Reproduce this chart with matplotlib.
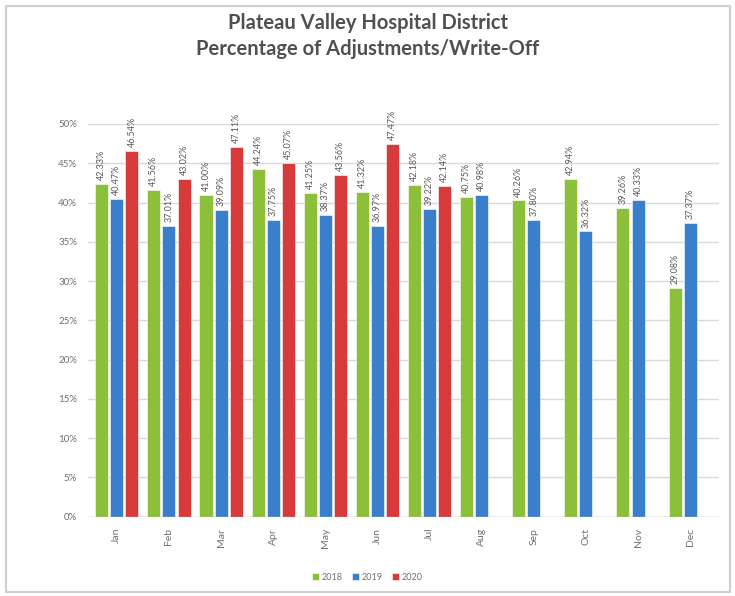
import numpy as np
import matplotlib.pyplot as plt
from matplotlib.patches import Rectangle

months = ["Jan", "Feb", "Mar", "Apr", "May", "Jun", "Jul", "Aug", "Sep", "Oct", "Nov", "Dec"]
y2018 = [42.33, 41.56, 41.00, 44.24, 41.25, 41.32, 42.18, 40.75, 40.26, 42.94, 39.26, 29.08]
y2019 = [40.47, 37.01, 39.09, 37.75, 38.37, 36.97, 39.22, 40.98, 37.80, 36.32, 40.33, 37.37]
y2020 = [46.54, 43.02, 47.11, 45.07, 43.56, 47.47, 42.14]

series = [("2018", y2018, "#8cbf3a"), ("2019", y2019, "#3a7fcc"), ("2020", y2020, "#d63a3a")]

plt.rcParams['font.family'] = ['Lato', 'DejaVu Sans']

fig = plt.figure(figsize=(7.35, 5.96), dpi=100)
ax = fig.add_axes([0.12, 0.133, 0.858, 0.659])

# outer chart frame
fig.patches.append(Rectangle((0.008, 0.006), 0.985, 0.984, transform=fig.transFigure,
                             fill=False, edgecolor="#cfcfcf", linewidth=1.5))

x = np.arange(len(months))
w = 0.25
step = 0.29
for i, (name, vals, col) in enumerate(series):
    xs = x[:len(vals)] + (i - 1) * step
    bars = ax.bar(xs, vals, width=w, color=col, edgecolor="white", linewidth=0.4,
                  label=name, zorder=3)
    for xi, v in zip(xs, vals):
        ax.text(xi, v + 0.5, f"{v:.2f}%", rotation=90, ha="center", va="bottom",
                fontsize=6.5, color="#595959", clip_on=False)

ax.set_ylim(0, 50)
ax.set_xlim(-0.55, len(months) - 0.45)
ax.set_yticks(np.arange(0, 51, 5))
ax.set_yticklabels([f"{t}%" for t in range(0, 51, 5)], fontsize=7, color="#707070")
ax.set_xticks(x)
ax.set_xticklabels(months, rotation=90, fontsize=7.5, color="#707070")
ax.tick_params(length=0, pad=8)
ax.yaxis.grid(True, color="#d9d9d9", linewidth=1, zorder=0)
for s in ax.spines.values():
    s.set_visible(False)
ax.axhline(0, color="#bfbfbf", linewidth=1, zorder=4)

fig.suptitle("Plateau Valley Hospital District\nPercentage of Adjustments/Write-Off",
             y=0.978, fontsize=14.5, fontweight="bold", color="#505050", linespacing=1.35)

fig.legend(loc="lower center", bbox_to_anchor=(0.5, 0.01), ncol=3, frameon=False,
           fontsize=6.5, handlelength=0.8, handleheight=0.8, columnspacing=1.0,
           handletextpad=0.3, labelcolor="#707070")

fig.savefig("out.png", dpi=100)
